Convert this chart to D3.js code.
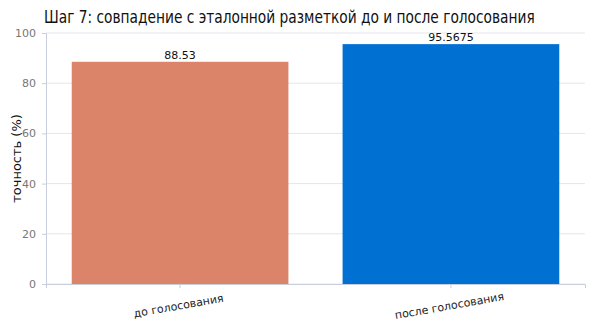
<!DOCTYPE html>
<html>
<head>
<meta charset="utf-8">
<script src="https://cdn.jsdelivr.net/npm/d3@7"></script>
<style>
  body { margin: 0; background: #fff; }
  svg { font-family: "DejaVu Sans", sans-serif; }
</style>
</head>
<body>
<svg id="chart" width="600" height="325"></svg>
<script>
const categories = ['до голосования', 'после голосования'];
const values = [88.53, 95.5675];
const valueLabels = ['88.53', '95.5675'];
const barColors = ['#db846a', '#0070d2'];
const yTicks = [0, 20, 40, 60, 80, 100];

const svg = d3.select('#chart');
const margin = { top: 33, right: 15, bottom: 41, left: 46 };
const width = 600 - margin.left - margin.right;
const height = 325 - margin.top - margin.bottom;

const x = d3.scaleBand()
  .domain(categories)
  .range([0, width])
  .paddingInner(0.2)
  .paddingOuter(0.095);

const y = d3.scaleLinear()
  .domain([0, 100])
  .range([height, 0]);

const g = svg.append('g')
  .attr('transform', `translate(${margin.left},${margin.top})`);

// grid
g.append('g')
  .selectAll('line')
  .data(yTicks)
  .join('line')
  .attr('x1', 0)
  .attr('x2', width)
  .attr('y1', d => y(d))
  .attr('y2', d => y(d))
  .attr('stroke', '#e3e6ee')
  .attr('stroke-width', 1);

// bars
g.append('g')
  .selectAll('rect')
  .data(values)
  .join('rect')
  .attr('x', (d, i) => x(categories[i]))
  .attr('y', d => y(d))
  .attr('width', x.bandwidth())
  .attr('height', d => height - y(d))
  .attr('fill', (d, i) => barColors[i]);

// value labels
g.append('g')
  .selectAll('text')
  .data(values)
  .join('text')
  .attr('x', (d, i) => x(categories[i]) + x.bandwidth() / 2)
  .attr('y', d => y(d) - 3)
  .attr('text-anchor', 'middle')
  .attr('font-size', 11)
  .attr('fill', '#111')
  .text((d, i) => valueLabels[i]);

// y axis
const yAxis = g.append('g')
  .call(d3.axisLeft(y).tickValues(yTicks).tickSize(4).tickPadding(6));
yAxis.select('.domain').attr('stroke', '#c8cedb');
yAxis.selectAll('.tick line').attr('stroke', '#c8cedb');
yAxis.selectAll('.tick text')
  .attr('fill', '#777')
  .attr('font-size', 11)
  .attr('font-family', 'DejaVu Sans, sans-serif');

// x axis
const xAxis = g.append('g')
  .attr('transform', `translate(0,${height})`)
  .call(d3.axisBottom(x).tickSize(4).tickPadding(6));
xAxis.select('.domain').attr('stroke', '#c8cedb');
xAxis.selectAll('.tick line').attr('stroke', '#c8cedb');
xAxis.selectAll('.tick text')
  .attr('fill', '#222')
  .attr('font-size', 11)
  .attr('font-family', 'DejaVu Sans, sans-serif')
  .attr('text-anchor', 'middle')
  .attr('transform', 'translate(-4,8) rotate(-10)');

// y label
svg.append('text')
  .attr('transform', `translate(21,${margin.top + height / 2}) rotate(-90)`)
  .attr('text-anchor', 'middle')
  .attr('font-size', 13)
  .attr('fill', '#111')
  .text('точность (%)');

// title, squeezed horizontally to look condensed
svg.append('text')
  .attr('transform', 'translate(44,23) scale(0.81,1)')
  .attr('font-size', 17)
  .attr('fill', '#111')
  .text('Шаг 7: совпадение с эталонной разметкой до и после голосования');
</script>
</body>
</html>
